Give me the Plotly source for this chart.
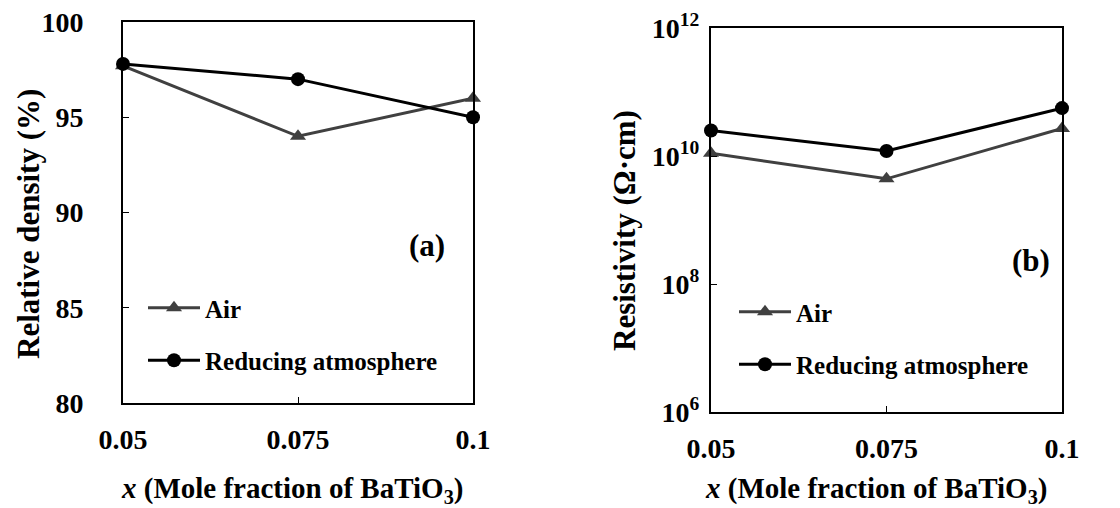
import plotly.graph_objects as go

# ---- data ----
x_frac = [0.05, 0.075, 0.1]
density_air = [97.7, 94.0, 96.0]
density_red = [97.8, 97.0, 95.0]
resist_air = [1.1e10, 4.4e9, 2.7e10]
resist_red = [2.5e10, 1.2e10, 5.6e10]

x_ticks = [0.05, 0.075, 0.1]
x_ticklabels = ["0.05", "0.075", "0.1"]
density_ticks = [80, 85, 90, 95, 100]
resist_ticks = [1e6, 1e8, 1e10, 1e12]
resist_ticklabels = ["10<sup>6</sup>", "10<sup>8</sup>", "10<sup>10</sup>", "10<sup>12</sup>"]

AIR_COLOR = "#404040"
RED_COLOR = "#000000"
FONT = "Liberation Serif"

fig = go.Figure()

def add_pair(xa, ya, y_air, y_red, legend):
    fig.add_trace(go.Scatter(
        x=x_frac, y=y_air, name="Air", mode="lines+markers",
        line=dict(color=AIR_COLOR, width=3),
        marker=dict(symbol="triangle-up", size=14, color=AIR_COLOR),
        xaxis=xa, yaxis=ya, legend=legend, legendgroup=legend + "air",
        cliponaxis=False))
    fig.add_trace(go.Scatter(
        x=x_frac, y=y_red, name="Reducing atmosphere", mode="lines+markers",
        line=dict(color=RED_COLOR, width=3),
        marker=dict(symbol="circle", size=14, color=RED_COLOR),
        xaxis=xa, yaxis=ya, legend=legend, legendgroup=legend + "red",
        cliponaxis=False))

add_pair("x", "y", density_air, density_red, "legend")
add_pair("x2", "y2", resist_air, resist_red, "legend2")

# page body has an 8px margin; figure sized to fit the 1120x508 window
OFF = 8
W, H = 1112, 500
def px(v):
    return (v - OFF) / W
def py(v):
    return (H - (v - OFF)) / H

tickfont = dict(family=FONT, size=28, color="black", weight="bold")
axis_common = dict(showline=True, linecolor="black", linewidth=2, mirror=True,
                   ticks="inside", ticklen=6, tickwidth=1, tickcolor="black",
                   showgrid=False, zeroline=False, tickfont=tickfont,
                   ticklabeloverflow="allow")

legend_common = dict(font=dict(family=FONT, size=25, color="black", weight="bold"),
                     bgcolor="rgba(0,0,0,0)", tracegroupgap=17,
                     xanchor="left", yanchor="top", itemwidth=52)

fig.update_layout(
    width=W, height=H,
    margin=dict(l=0, r=0, t=0, b=0, autoexpand=False),
    paper_bgcolor="white", plot_bgcolor="white",
    xaxis=dict(domain=[px(123), px(473)], range=[0.05, 0.1],
               tickvals=x_ticks, ticktext=x_ticklabels, anchor="y",
               ticklabelstandoff=10, **axis_common),
    yaxis=dict(domain=[py(403), py(22)], range=[80, 100],
               tickvals=density_ticks, anchor="x",
               ticklabelstandoff=32, **axis_common),
    xaxis2=dict(domain=[px(711), px(1062)], range=[0.05, 0.1],
                tickvals=x_ticks, ticktext=x_ticklabels, anchor="y2",
                ticklabelstandoff=10, **axis_common),
    yaxis2=dict(domain=[py(412), py(28)], type="log", range=[6, 12],
                tickvals=resist_ticks, ticktext=resist_ticklabels, anchor="x2",
                ticklabelstandoff=4, **axis_common),
    legend=dict(x=px(143), y=py(285), **legend_common),
    legend2=dict(x=px(734), y=py(289), **legend_common),
    showlegend=True,
)

title_font = dict(family=FONT, size=29, color="black", weight="bold")
ytitle_font = dict(family=FONT, size=31, color="black", weight="bold")
common_ann = dict(xref="paper", yref="paper", showarrow=False,
                  xanchor="center", yanchor="middle")
fig.add_annotation(text="<i>x</i> (Mole fraction of BaTiO<sub>3</sub>)", x=px(292), y=py(490),
                   font=title_font, **common_ann)
fig.add_annotation(text="<i>x</i> (Mole fraction of BaTiO<sub>3</sub>)", x=px(876), y=py(490),
                   font=title_font, **common_ann)
fig.add_annotation(text="Relative density (%)", x=px(28), y=py(224), textangle=-90,
                   font=ytitle_font, **common_ann)
fig.add_annotation(text="Resistivity (Ω·cm)", x=px(625), y=py(231), textangle=-90,
                   font=ytitle_font, **common_ann)
fig.add_annotation(text="(a)", x=px(427), y=py(245),
                   font=dict(family=FONT, size=31, color="black", weight="bold"), **common_ann)
fig.add_annotation(text="(b)", x=px(1031), y=py(260),
                   font=dict(family=FONT, size=31, color="black", weight="bold"), **common_ann)

fig.write_html("out.html")
